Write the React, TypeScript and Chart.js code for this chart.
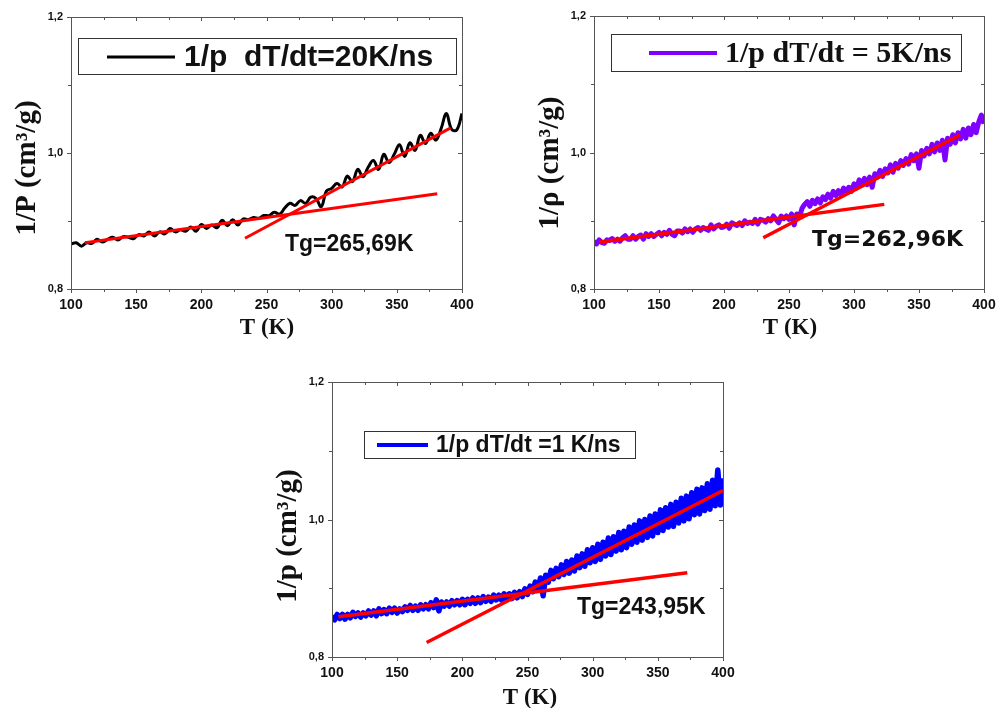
import React, { useEffect, useRef } from 'react';
import { Chart, registerables } from 'chart.js';

Chart.register(...registerables);

// ---------- data ----------
const T_STEP4 = [100,104,108,112,116,120,124,128,132,136,140,144,148,152,156,160,164,168,172,176,180,184,188,192,196,200,204,208,212,216,220,224,228,232,236,240,244,248,252,256,260,264,268,272,276,280,284,288,292,296,300,304,308,312,316,320,324,328,332,336,340,344,348,352,356,360,364,368,372,376,380,384,388,392,396,400];

const T_STEP2 = [100,102,104,106,108,110,112,114,116,118,120,122,124,126,128,130,132,134,136,138,140,142,144,146,148,150,152,154,156,158,160,162,164,166,168,170,172,174,176,178,180,182,184,186,188,190,192,194,196,198,200,202,204,206,208,210,212,214,216,218,220,222,224,226,228,230,232,234,236,238,240,242,244,246,248,250,252,254,256,258,260,262,264,266,268,270,272,274,276,278,280,282,284,286,288,290,292,294,296,298,300,302,304,306,308,310,312,314,316,318,320,322,324,326,328,330,332,334,336,338,340,342,344,346,348,350,352,354,356,358,360,362,364,366,368,370,372,374,376,378,380,382,384,386,388,390,392,394,396,398,400];

// 1/p, dT/dt = 20 K/ns (black)
const V_20 = [
  0.866,0.868,0.863,0.868,0.867,0.873,0.869,0.873,0.876,0.872,
  0.877,0.876,0.874,0.880,0.878,0.884,0.878,0.884,0.881,0.889,
  0.884,0.887,0.885,0.891,0.885,0.895,0.889,0.894,0.890,0.901,
  0.893,0.902,0.894,0.903,0.902,0.905,0.904,0.908,0.908,0.913,
  0.910,0.919,0.926,0.923,0.930,0.926,0.935,0.933,0.921,0.944,
  0.948,0.955,0.950,0.966,0.958,0.976,0.965,0.979,0.989,0.976,
  0.998,0.986,0.998,1.012,0.995,1.015,1.004,1.026,1.014,1.029,
  1.019,1.036,1.058,1.035,1.034,1.058];

// 1/p, dT/dt = 5 K/ns (purple)
const V_5 = [
  0.870,0.866,0.872,0.868,0.867,0.872,0.871,0.874,0.870,0.873,
  0.870,0.875,0.878,0.873,0.873,0.878,0.873,0.877,0.879,0.873,
  0.881,0.877,0.881,0.877,0.880,0.883,0.878,0.883,0.880,0.886,
  0.880,0.878,0.885,0.885,0.882,0.888,0.884,0.888,0.883,0.888,
  0.890,0.886,0.890,0.888,0.886,0.894,0.888,0.892,0.894,0.890,
  0.891,0.895,0.889,0.897,0.895,0.893,0.897,0.893,0.900,0.896,
  0.898,0.896,0.902,0.895,0.902,0.901,0.898,0.903,0.900,0.907,
  0.902,0.897,0.907,0.903,0.907,0.902,0.910,0.894,0.910,0.905,
  0.918,0.924,0.928,0.921,0.930,0.925,0.932,0.926,0.935,0.931,
  0.939,0.933,0.943,0.937,0.944,0.938,0.948,0.942,0.949,0.943,
  0.954,0.948,0.960,0.952,0.962,0.953,0.964,0.949,0.969,0.964,
  0.974,0.965,0.976,0.970,0.982,0.971,0.984,0.977,0.988,0.981,
  0.991,0.983,0.997,0.988,0.998,0.977,1.003,0.995,1.006,0.998,
  1.012,1.001,1.014,1.003,1.018,0.989,1.021,1.012,1.026,1.014,
  1.029,1.020,1.034,1.021,1.036,1.026,1.041,1.029,1.045,1.055,
  1.042];

// 1/p, dT/dt = 1 K/ns (blue)
const V_1 = [
  0.860,0.854,0.862,0.856,0.862,0.855,0.862,0.857,0.865,0.859,
  0.864,0.858,0.864,0.860,0.867,0.861,0.867,0.860,0.870,0.863,
  0.869,0.863,0.871,0.865,0.871,0.864,0.870,0.866,0.873,0.868,
  0.875,0.868,0.874,0.868,0.876,0.870,0.876,0.870,0.879,0.872,
  0.883,0.867,0.880,0.874,0.880,0.874,0.882,0.876,0.882,0.876,
  0.884,0.876,0.884,0.878,0.886,0.878,0.886,0.879,0.888,0.881,
  0.887,0.881,0.890,0.883,0.890,0.883,0.892,0.884,0.892,0.885,
  0.894,0.886,0.895,0.888,0.899,0.891,0.903,0.895,0.909,0.899,
  0.915,0.889,0.919,0.909,0.926,0.914,0.929,0.917,0.934,0.920,
  0.939,0.922,0.941,0.925,0.947,0.930,0.950,0.932,0.956,0.937,
  0.959,0.939,0.964,0.942,0.967,0.947,0.973,0.949,0.975,0.954,
  0.981,0.956,0.983,0.959,0.989,0.964,0.992,0.967,0.998,0.970,
  1.000,0.974,1.005,0.976,1.008,0.981,1.014,0.984,1.017,0.989,
  1.022,0.990,1.025,0.995,1.031,0.998,1.034,1.001,1.039,1.007,
  1.044,1.008,1.046,1.013,1.052,1.015,1.057,1.020,1.072,1.021,
  1.060];

// linear fits [T, value] endpoints
const FIT_20_GLASS = [[110.7, 0.868], [381, 0.940]];
const FIT_20_LIQUID = [[233.5, 0.8746], [391.3, 1.037]];
const FIT_5_GLASS = [[104.6, 0.869], [323.3, 0.924]];
const FIT_5_LIQUID = [[230.2, 0.875], [381.5, 1.0256]];
const FIT_1_GLASS = [[104.9, 0.8587], [372.6, 0.9227]];
const FIT_1_LIQUID = [[172.6, 0.821], [400, 1.042]];

const X_MIN = 100, X_MAX = 400, X_STEP = 25;
const Y_MIN = 0.8, Y_MAX = 1.2, Y_STEP = 0.1;

const LEGEND_20 = '1/p  dT/dt=20K/ns';
const LEGEND_5 = '1/p dT/dt = 5K/ns';
const LEGEND_1 = '1/p dT/dt =1 K/ns';
const TG_20 = 'Tg=265,69K';
const TG_5 = 'Tg=262,96K';
const TG_1 = 'Tg=243,95K';
const YTITLE_20 = '1/P (cm³/g)';
const YTITLE_5 = '1/ρ (cm³/g)';
const YTITLE_1 = '1/p (cm³/g)';
const XTITLE = 'T (K)';

const SANS = '"Liberation Sans", Arial, sans-serif';
const SERIF = '"Liberation Serif", "Times New Roman", serif';
const DEJAVU = '"DejaVu Sans", Verdana, sans-serif';

type PanelCfg = {
  left: number; top: number; w: number; h: number;
  padTop: number; padRight: number; yw: number; xh: number;
  temps: number[]; values: number[]; color: string; lineW: number; tension: number;
  fitA: number[][]; fitB: number[][]; fitW: number;
  yTitle: string; yTitlePos: [number, number]; xTitlePos: [number, number];
  legend: { box: [number, number, number, number]; line: [number, number, number]; lw: number; text: string; font: string; tx: number };
  tg: { text: string; font: string; x: number; y: number };
};

const PANELS: PanelCfg[] = [
  {
    left: 0, top: 0, w: 490, h: 345, padTop: 17, padRight: 28, yw: 71, xh: 56,
    temps: T_STEP4, values: V_20, color: '#000000', lineW: 3, tension: 0.4,
    fitA: FIT_20_GLASS, fitB: FIT_20_LIQUID, fitW: 3,
    yTitle: YTITLE_20, yTitlePos: [28, 168], xTitlePos: [267, 328],
    legend: { box: [78, 38, 456, 74], line: [107, 175, 57], lw: 3, text: LEGEND_20, font: `bold 30px ${SANS}`, tx: 184 },
    tg: { text: TG_20, font: `bold 23px ${SANS}`, x: 285, y: 245 },
  },
  {
    left: 500, top: 0, w: 497, h: 345, padTop: 16, padRight: 13, yw: 94, xh: 56,
    temps: T_STEP2, values: V_5, color: '#7f00ff', lineW: 5, tension: 0,
    fitA: FIT_5_GLASS, fitB: FIT_5_LIQUID, fitW: 3.5,
    yTitle: YTITLE_5, yTitlePos: [51, 163], xTitlePos: [290, 328],
    legend: { box: [111, 34, 461, 71], line: [149, 217, 53], lw: 4, text: LEGEND_5, font: `bold 30px ${SERIF}`, tx: 225 },
    tg: { text: TG_5, font: `bold 22px ${DEJAVU}`, x: 312, y: 240 },
  },
  {
    left: 250, top: 365, w: 500, h: 343, padTop: 17, padRight: 27, yw: 82, xh: 51,
    temps: T_STEP2, values: V_1, color: '#0000ff', lineW: 5.5, tension: 0,
    fitA: FIT_1_GLASS, fitB: FIT_1_LIQUID, fitW: 3.5,
    yTitle: YTITLE_1, yTitlePos: [39, 171], xTitlePos: [280, 333],
    legend: { box: [114, 66, 385, 93], line: [127, 178, 80], lw: 4, text: LEGEND_1, font: `bold 23px ${SANS}`, tx: 186 },
    tg: { text: TG_1, font: `bold 23px ${SANS}`, x: 327, y: 243 },
  },
];

function fmtComma(v: number) {
  return v.toFixed(1).replace('.', ',');
}

function Panel({ cfg }: { cfg: PanelCfg }) {
  const ref = useRef<HTMLCanvasElement>(null);
  useEffect(() => {
    const canvas = ref.current;
    if (!canvas) return;
    const decor = {
      id: 'decor',
      afterDraw(chart: any) {
        const ctx = chart.ctx as CanvasRenderingContext2D;
        const a = chart.chartArea;
        const xs = chart.scales.x;
        const ys = chart.scales.y;
        ctx.save();
        // frame
        ctx.strokeStyle = '#555';
        ctx.lineWidth = 1;
        ctx.strokeRect(Math.round(a.left) + 0.5, Math.round(a.top) + 0.5, Math.round(a.right - a.left), Math.round(a.bottom - a.top));
        // ticks
        ctx.beginPath();
        xs.ticks.forEach((t: any) => {
          const px = Math.round(xs.getPixelForValue(t.value)) + 0.5;
          const major = Math.round(t.value) % 50 === 0;
          const len = major ? 4 : 3;
          ctx.moveTo(px, a.bottom); ctx.lineTo(px, a.bottom + len);
          ctx.moveTo(px, a.top); ctx.lineTo(px, a.top + len);
        });
        ys.ticks.forEach((t: any) => {
          const py = Math.round(ys.getPixelForValue(t.value)) + 0.5;
          const major = Math.round(t.value * 10) % 2 === 0;
          const len = major ? 4 : 3;
          ctx.moveTo(a.left, py); ctx.lineTo(a.left - len, py);
          ctx.moveTo(a.right, py); ctx.lineTo(a.right - len, py);
        });
        ctx.stroke();
        // axis titles
        ctx.fillStyle = '#111';
        ctx.textAlign = 'center';
        ctx.textBaseline = 'middle';
        ctx.font = `bold 29px ${SERIF}`;
        ctx.save();
        ctx.translate(cfg.yTitlePos[0], cfg.yTitlePos[1]);
        ctx.rotate(-Math.PI / 2);
        ctx.fillText(cfg.yTitle, 0, 0);
        ctx.restore();
        ctx.font = `bold 23px ${SERIF}`;
        ctx.fillText(XTITLE, cfg.xTitlePos[0], cfg.xTitlePos[1]);
        // legend
        const L = cfg.legend;
        ctx.fillStyle = '#fff';
        ctx.fillRect(L.box[0], L.box[1], L.box[2] - L.box[0], L.box[3] - L.box[1]);
        ctx.strokeStyle = '#333';
        ctx.lineWidth = 1;
        ctx.strokeRect(L.box[0] + 0.5, L.box[1] + 0.5, L.box[2] - L.box[0], L.box[3] - L.box[1]);
        ctx.strokeStyle = cfg.color;
        ctx.lineWidth = L.lw;
        ctx.beginPath();
        ctx.moveTo(L.line[0], L.line[2]);
        ctx.lineTo(L.line[1], L.line[2]);
        ctx.stroke();
        ctx.fillStyle = '#111';
        ctx.textAlign = 'left';
        ctx.font = L.font;
        ctx.fillText(L.text, L.tx, L.line[2] + 1);
        // Tg label
        ctx.font = cfg.tg.font;
        ctx.fillText(cfg.tg.text, cfg.tg.x, cfg.tg.y);
        ctx.restore();
      },
    };

    const toPts = (arr: number[][]) => arr.map((p) => ({ x: p[0], y: p[1] }));
    const chart = new Chart(canvas, {
      type: 'line',
      data: {
        datasets: [
          { data: toPts(cfg.fitA), borderColor: '#ff0000', borderWidth: cfg.fitW, pointRadius: 0, order: 0, borderCapStyle: 'butt' } as any,
          { data: toPts(cfg.fitB), borderColor: '#ff0000', borderWidth: cfg.fitW, pointRadius: 0, order: 0, borderCapStyle: 'butt' } as any,
          { data: cfg.temps.map((t, i) => ({ x: t, y: cfg.values[i] })), borderColor: cfg.color, borderWidth: cfg.lineW, pointRadius: 0, tension: cfg.tension, order: 1 } as any,
        ],
      },
      options: {
        responsive: false,
        animation: false,
        devicePixelRatio: 1,
        layout: { padding: { left: 0, top: cfg.padTop, right: cfg.padRight, bottom: 0 } },
        plugins: { legend: { display: false }, tooltip: { enabled: false } },
        elements: { line: { borderJoinStyle: 'round' } },
        scales: {
          x: {
            type: 'linear', min: X_MIN, max: X_MAX,
            grid: { display: false }, border: { display: false },
            ticks: {
              stepSize: X_STEP, autoSkip: false, maxRotation: 0, padding: 0, color: '#111',
              font: { family: SANS, size: 14, weight: 'bold' },
              callback: (v: any) => (Math.round(v) % 50 === 0 ? String(Math.round(v)) : ''),
            },
            afterFit: (s: any) => { s.height = cfg.xh; },
          },
          y: {
            type: 'linear', min: Y_MIN, max: Y_MAX,
            grid: { display: false }, border: { display: false },
            ticks: {
              stepSize: Y_STEP, autoSkip: false, padding: 0, color: '#111',
              font: { family: SANS, size: 11, weight: 'bold' },
              callback: (v: any) => (Math.round(v * 10) % 2 === 0 ? fmtComma(v) : ''),
            },
            afterFit: (s: any) => { s.width = cfg.yw; },
          },
        },
      } as any,
      plugins: [decor],
    });
    return () => chart.destroy();
  }, [cfg]);
  return (
    <canvas
      ref={ref}
      width={cfg.w}
      height={cfg.h}
      style={{ position: 'absolute', left: cfg.left, top: cfg.top, width: cfg.w, height: cfg.h }}
    />
  );
}

export default function App() {
  return (
    <div style={{ position: 'absolute', left: 0, top: 0, width: 997, height: 708, background: '#fff', overflow: 'hidden' }}>
      {PANELS.map((p, i) => (
        <Panel key={i} cfg={p} />
      ))}
    </div>
  );
}
